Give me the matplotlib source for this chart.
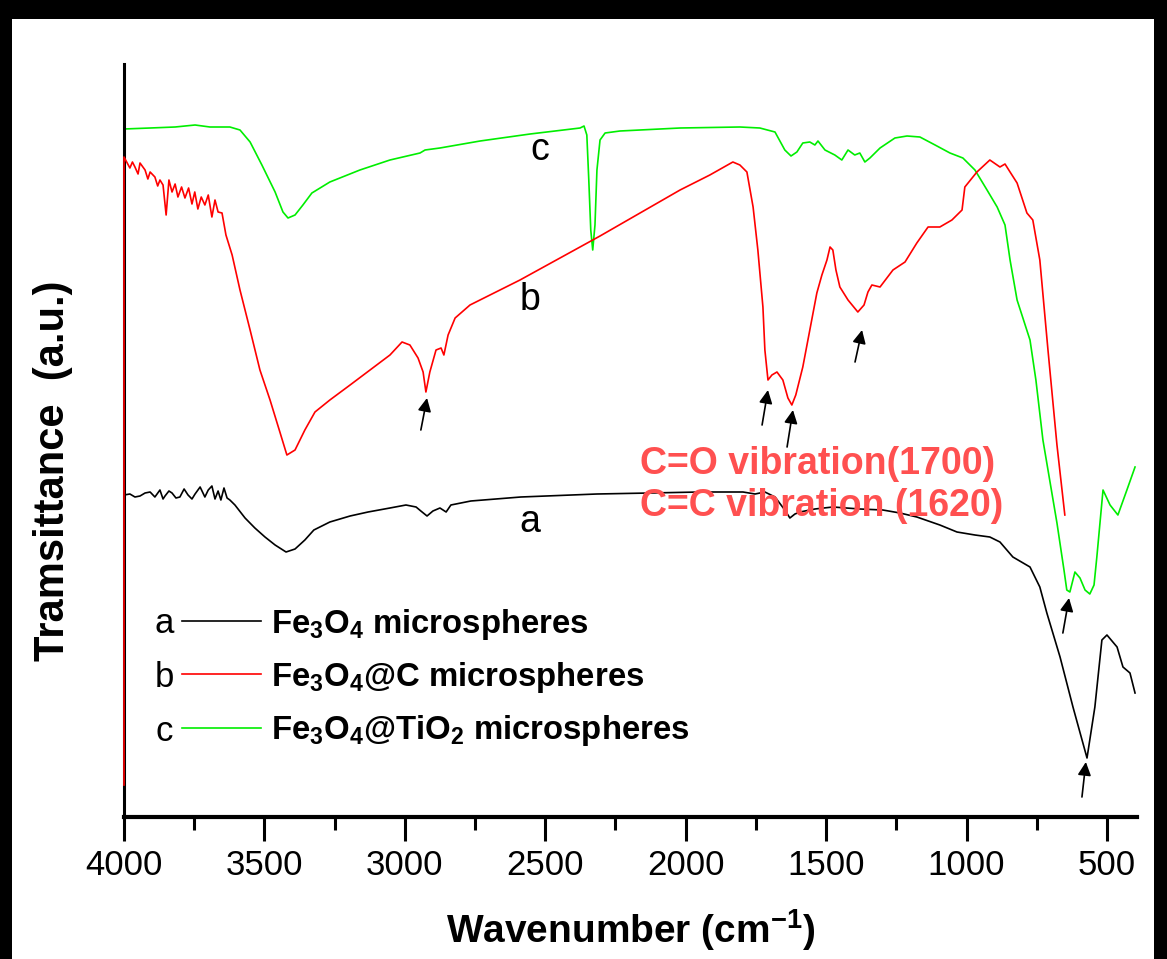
import matplotlib
matplotlib.use("Agg")
import matplotlib.pyplot as plt
from matplotlib.patches import Rectangle
from matplotlib.ticker import MultipleLocator

plt.rcParams['font.family'] = ['Liberation Sans', 'DejaVu Sans']
plt.rcParams['mathtext.fontset'] = 'custom'
plt.rcParams['mathtext.rm'] = 'Liberation Sans'
plt.rcParams['mathtext.bf'] = 'Liberation Sans:bold'

# FTIR spectra, offset transmittance (a.u.)
wn_a = [4000, 3979, 3961, 3943, 3925, 3907, 3890, 3872, 3861, 3854, 3840, 3829, 3815, 3801,
        3786, 3772, 3758, 3747, 3729, 3712, 3700, 3687, 3676, 3665, 3655, 3644, 3633, 3623,
        3605, 3569, 3534, 3498, 3462, 3423, 3391, 3356, 3324, 3267, 3195,
        3131, 3053, 2996, 2960, 2943, 2921, 2900, 2875, 2853, 2836, 2765, 2587, 2316, 2127,
        1949, 1796, 1753, 1718, 1682, 1647, 1629, 1611, 1593, 1540, 1476, 1380, 1298, 1237,
        1177, 1095, 1034, 970, 917, 881, 835, 774, 739, 714, 667, 621, 571, 543, 518, 500,
        464, 443, 418, 400]
t_a = [322, 323, 320, 321, 324, 325, 320, 327, 318, 321, 326, 324, 319, 320,
       328, 322, 318, 323, 330, 320, 327, 331, 318, 326, 317, 329, 319, 317,
       312, 299, 289, 280, 272, 265, 268, 277, 287, 295, 301,
       305, 309, 312, 310, 306, 301, 306, 309, 305, 312, 316, 320, 323, 324,
       325, 325, 323, 325, 320, 307, 299, 303, 305, 308, 310, 308, 307, 304,
       300, 292, 285, 282, 280, 275, 260, 250, 230, 204, 160, 110, 59, 110, 177, 182,
       170, 150, 144, 124]

wn_b = [4000, 4000, 3979, 3970, 3961, 3950, 3943, 3925, 3915, 3907, 3890, 3880, 3872, 3861,
        3850, 3840, 3829, 3818, 3808, 3795, 3783, 3770, 3758, 3748, 3737, 3725, 3712, 3700,
        3687, 3676, 3665, 3651, 3637, 3615, 3587, 3551, 3516, 3480, 3445, 3420,
        3391, 3356, 3320, 3267, 3195, 3124, 3053, 3010, 2982, 2953, 2935, 2925, 2911, 2889,
        2871, 2861, 2846, 2821, 2768, 2590, 2305, 2020, 1914, 1832, 1807, 1782, 1760, 1743,
        1725, 1718, 1707, 1693, 1675, 1654, 1636, 1622, 1608, 1583, 1558, 1533, 1515, 1497,
        1486, 1476, 1465, 1451, 1422, 1387, 1365, 1351, 1337, 1308, 1262, 1219, 1177, 1137,
        1095, 1052, 1016, 1006, 963, 917, 881, 863, 845, 820, 785, 764, 739, 710, 678, 650]
t_b = [32, 660, 649, 655, 650, 643, 654, 647, 638, 645, 640, 631, 637, 632,
       602, 637, 625, 633, 620, 630, 619, 629, 613, 625, 608, 620, 612, 622,
       600, 617, 605, 604, 582, 562, 527, 487, 447, 417, 385, 362,
       367, 387, 405, 417, 432, 447, 462, 475, 472, 459, 445, 425, 445, 467,
       469, 462, 482, 499, 512, 537, 581, 627, 642, 655, 652, 645, 610, 567,
       510, 467, 437, 442, 445, 437, 419, 412, 422, 450, 487, 524, 542, 557,
       570, 567, 547, 530, 517, 505, 512, 525, 532, 530, 547, 555, 574, 590,
       590, 597, 607, 630, 645, 657, 650, 653, 645, 634, 604, 597, 557, 467, 372, 302]

wn_c = [4000, 3907, 3818, 3747, 3694, 3623, 3587, 3551, 3509, 3462, 3434, 3416, 3391, 3363,
        3331, 3267, 3160, 3053, 2946, 2928, 2875, 2732, 2554, 2376, 2362, 2352, 2345, 2338,
        2331, 2323, 2316, 2305, 2287, 2234, 2020, 1807, 1736, 1682, 1647, 1625, 1604, 1583,
        1558, 1540, 1529, 1504, 1469, 1444, 1422, 1398, 1380, 1362, 1344, 1308, 1255, 1212,
        1166, 1112, 1059, 1013, 970, 927, 891, 863, 845, 820, 774, 753, 728, 678, 653, 643,
        632, 614, 596, 578, 561, 546, 536, 514, 489, 461, 429, 400]
t_c = [688, 689, 690, 692, 690, 690, 687, 675, 652, 625, 605, 599, 602, 612,
       624, 635, 647, 657, 664, 667, 669, 676, 683, 689, 691, 682, 637, 587,
       567, 592, 647, 677, 684, 686, 689, 690, 689, 685, 667, 661, 665, 674,
       675, 672, 676, 667, 662, 657, 667, 662, 664, 655, 659, 669, 679, 681,
       680, 672, 664, 659, 647, 627, 610, 592, 557, 517, 477, 437, 377, 294, 247, 227,
       225, 245, 239, 227, 223, 232, 260, 327, 312, 302, 327, 350]

series_tags = ['a', 'b', 'c']
series_labels = [r'Fe$_\mathbf{3}$O$_\mathbf{4}$ microspheres',
                 r'Fe$_\mathbf{3}$O$_\mathbf{4}$@C microspheres',
                 r'Fe$_\mathbf{3}$O$_\mathbf{4}$@TiO$_\mathbf{2}$ microspheres']
series_colors = ['black', '#ff0000', '#00ee00']

# arrows: (tail wn, tail y, head wn, head y)
arrows = [(2943, 387, 2921, 419), (1728, 392, 1707, 427), (1639, 370, 1618, 407),
          (1397, 455, 1372, 487), (657, 184, 635, 219), (589, 20, 575, 55)]

fig = plt.figure(figsize=(11.67, 9.59), dpi=100, facecolor='black')
fig.patches.append(Rectangle((12/1167, 0), 1142/1167, 940/959, transform=fig.transFigure,
                             facecolor='white', edgecolor='none', zorder=-10))
ax = fig.add_axes([124/1167, 142/959, 1013/1167, 753/959])
ax.set_facecolor('none')

lines = []
for wn, t, col, z in zip([wn_a, wn_b, wn_c], [t_a, t_b, t_c], series_colors, [2, 3, 2]):
    ln, = ax.plot(wn, t, color=col, lw=1.2, zorder=z, clip_on=False)
    lines.append(ln)

ax.set_xlim(4000, 393)
ax.set_ylim(0, 753)
for s in ['top', 'right']:
    ax.spines[s].set_visible(False)
ax.spines['bottom'].set_linewidth(3)
ax.spines['left'].set_linewidth(2.2)
ax.set_yticks([])
ax.xaxis.set_major_locator(MultipleLocator(500))
ax.xaxis.set_minor_locator(MultipleLocator(250))
ax.tick_params(axis='x', which='major', length=17, width=2.2, labelsize=25, pad=6)
ax.tick_params(axis='x', which='minor', length=9, width=2.2)

ax.set_xlabel(r'Wavenumber (cm$^{\mathbf{-1}}$)', fontsize=28, fontweight='bold')
ax.xaxis.set_label_coords(0.5, -0.12)
ax.set_ylabel('Tramsittance  (a.u.)', fontsize=30, fontweight='bold')
ax.yaxis.set_label_coords(-0.05, 0.46)

# curve tags
ax.text(2519, 667, 'c', fontsize=27, ha='center', va='center')
ax.text(2554, 517, 'b', fontsize=27, ha='center', va='center')
ax.text(2554, 295, 'a', fontsize=27, ha='center', va='center')

for x0, y0, x1, y1 in arrows:
    ax.annotate('', xy=(x1, y1), xytext=(x0, y0),
                arrowprops=dict(arrowstyle='-|>', color='black', lw=1.2,
                                mutation_scale=20, shrinkA=0, shrinkB=0))

leg = ax.legend(lines, series_labels, loc='upper left', bbox_to_anchor=(0.057, 0.279),
                frameon=False, borderpad=0, borderaxespad=0, handlelength=2.4,
                handletextpad=0.3, labelspacing=0.55,
                prop={'size': 23.7, 'weight': 'bold'})
for i, tag in enumerate(series_tags):
    ax.text(0.04, 0.257 - i * 0.0717, tag, fontsize=25, ha='center', va='center',
            transform=ax.transAxes)

ax.text(2163, 353, 'C=O vibration(1700)', color='#ff5050', fontsize=27,
        fontweight='bold', va='center')
ax.text(2163, 311, 'C=C vibration (1620)', color='#ff5050', fontsize=27,
        fontweight='bold', va='center')

fig.savefig('out.png', dpi=100, facecolor=fig.get_facecolor())
